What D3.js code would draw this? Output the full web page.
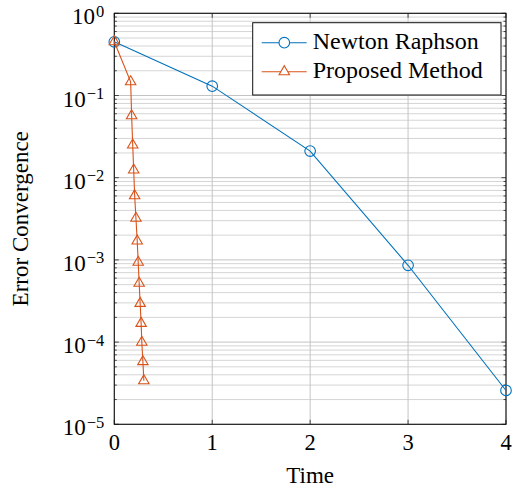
<!DOCTYPE html>
<html>
<head>
<meta charset="utf-8">
<script src="https://cdn.jsdelivr.net/npm/d3@7"></script>
<style>
  body { margin: 0; background: #fff; }
  svg text { font-family: "Liberation Serif", "DejaVu Serif", serif; fill: #000; }
</style>
</head>
<body>
<svg id="graf1"></svg>
<script>
// Newton Raphson
let newtonX = [0, 1, 2, 3, 4]
let newtonY = [0.45, 0.13, 0.0211, 0.00086, 0.0000258]

// Proposed Method
let propX = [0, 0.167, 0.177, 0.188, 0.198, 0.208, 0.221, 0.234, 0.244, 0.254, 0.264, 0.274, 0.281, 0.292, 0.302]
let propY = [0.45, 0.147, 0.0568, 0.025, 0.0124, 0.00604, 0.00321, 0.0017, 0.000935, 0.000519, 0.000296, 0.000169, 0.0000995, 0.0000578, 0.0000339]

let xTicks = [0, 1, 2, 3, 4]
let yExps = [0, -1, -2, -3, -4, -5]
let seriesNames = ['Newton Raphson', 'Proposed Method']

function graficar() {
  let width = 518
  let height = 491
  let m = { left: 114.3, right: 12, top: 13.3, bottom: 66.7 }
  let blue = '#0072bd'
  let orange = '#d95319'

  let svg = d3.select('#graf1')
    .attr('width', width)
    .attr('height', height)

  let x = d3.scaleLinear().domain([0, 4]).range([m.left, width - m.right])
  let y = d3.scaleLog().domain([1e-5, 1]).range([height - m.bottom, m.top])

  let x0 = x.range()[0], x1 = x.range()[1]
  let y0 = y.range()[0], y1 = y.range()[1]

  // minor values 2..9 in each decade
  let minor = []
  yExps.slice(0, -1).forEach(e => {
    for (let k = 2; k <= 9; k++) minor.push(k * Math.pow(10, e - 1))
  })

  let grid = svg.append('g')
  grid.selectAll('.hm').data(minor).enter().append('line')
    .attr('x1', x0).attr('x2', x1)
    .attr('y1', d => y(d)).attr('y2', d => y(d))
    .attr('stroke', '#d0d0d0').attr('stroke-width', 0.9)
  grid.selectAll('.hM').data(yExps).enter().append('line')
    .attr('x1', x0).attr('x2', x1)
    .attr('y1', d => y(Math.pow(10, d))).attr('y2', d => y(Math.pow(10, d)))
    .attr('stroke', '#c4c4c4').attr('stroke-width', 1)
  grid.selectAll('.vM').data(xTicks).enter().append('line')
    .attr('x1', d => x(d)).attr('x2', d => x(d))
    .attr('y1', y0).attr('y2', y1)
    .attr('stroke', '#c4c4c4').attr('stroke-width', 1)

  // inward ticks
  let ticks = svg.append('g').attr('stroke', '#222').attr('stroke-width', 0.8)
  xTicks.forEach(t => {
    ticks.append('line').attr('x1', x(t)).attr('x2', x(t)).attr('y1', y0).attr('y2', y0 - 4.5)
    ticks.append('line').attr('x1', x(t)).attr('x2', x(t)).attr('y1', y1).attr('y2', y1 + 4.5)
  })
  yExps.forEach(e => {
    let yy = y(Math.pow(10, e))
    ticks.append('line').attr('x1', x0).attr('x2', x0 + 4.5).attr('y1', yy).attr('y2', yy)
    ticks.append('line').attr('x1', x1).attr('x2', x1 - 4.5).attr('y1', yy).attr('y2', yy)
  })
  minor.forEach(v => {
    let yy = y(v)
    ticks.append('line').attr('x1', x0).attr('x2', x0 + 2.5).attr('y1', yy).attr('y2', yy)
    ticks.append('line').attr('x1', x1).attr('x2', x1 - 2.5).attr('y1', yy).attr('y2', yy)
  })

  // frame
  svg.append('rect')
    .attr('x', x0).attr('y', y1)
    .attr('width', x1 - x0).attr('height', y0 - y1)
    .attr('fill', 'none').attr('stroke', '#111').attr('stroke-width', 1.1)

  // x tick labels
  svg.append('g').selectAll('text').data(xTicks).enter().append('text')
    .attr('x', d => x(d)).attr('y', y0 + 25.7)
    .attr('text-anchor', 'middle').style('font-size', '22.5px')
    .text(d => d)

  // y tick labels 10^e
  let yl = svg.append('g').selectAll('text').data(yExps).enter().append('text')
    .attr('x', x0 - 10).attr('y', d => y(Math.pow(10, d)) + 11)
    .attr('text-anchor', 'end').style('font-size', '23px')
  yl.append('tspan').text('10')
  yl.append('tspan').attr('dy', -7.5).attr('dx', 1).style('font-size', '16.5px')
    .text(d => d === 0 ? '0' : '\u2212' + Math.abs(d))

  // axis labels
  svg.append('text')
    .attr('x', (x0 + x1) / 2).attr('y', 483.3)
    .attr('text-anchor', 'middle').style('font-size', '23px')
    .text('Time')
  svg.append('text')
    .attr('transform', `translate(28, ${(y0 + y1) / 2}) rotate(-90)`)
    .attr('text-anchor', 'middle').style('font-size', '23px')
    .text('Error Convergence')

  let line = d3.line().x(d => x(d[0])).y(d => y(d[1]))
  let nData = newtonX.map((v, i) => [v, newtonY[i]])
  let pData = propX.map((v, i) => [v, propY[i]])

  function triangle(cx, cy, s) {
    return `M${cx},${cy - s} L${cx + s * 0.87},${cy + s * 0.5} L${cx - s * 0.87},${cy + s * 0.5} Z`
  }

  let plot = svg.append('g')
  plot.append('path').attr('d', line(nData))
    .attr('fill', 'none').attr('stroke', blue).attr('stroke-width', 1.1)
  plot.selectAll('.nm').data(nData).enter().append('circle')
    .attr('cx', d => x(d[0])).attr('cy', d => y(d[1])).attr('r', 5.3)
    .attr('fill', 'none').attr('stroke', blue).attr('stroke-width', 1.1)

  plot.append('path').attr('d', line(pData))
    .attr('fill', 'none').attr('stroke', orange).attr('stroke-width', 1.1)
  plot.selectAll('.pm').data(pData).enter().append('path')
    .attr('d', d => triangle(x(d[0]), y(d[1]), 6))
    .attr('fill', 'none').attr('stroke', orange).attr('stroke-width', 1.1)

  // legend
  let lg = svg.append('g')
  lg.append('rect')
    .attr('x', 252.7).attr('y', 22.7).attr('width', 248.3).attr('height', 72.3)
    .attr('fill', '#fff').attr('stroke', '#111').attr('stroke-width', 1)
  let rows = [42.7, 71.7]
  let cols = [blue, orange]
  seriesNames.forEach((name, i) => {
    let ry = rows[i]
    lg.append('line').attr('x1', 261.7).attr('x2', 306.7).attr('y1', ry).attr('y2', ry)
      .attr('stroke', cols[i]).attr('stroke-width', 1.1)
    if (i === 0) {
      lg.append('circle').attr('cx', 284.3).attr('cy', ry).attr('r', 5.3)
        .attr('fill', '#fff').attr('stroke', blue).attr('stroke-width', 1.1)
    } else {
      lg.append('path').attr('d', triangle(284.3, ry, 6))
        .attr('fill', '#fff').attr('stroke', orange).attr('stroke-width', 1.1)
    }
    lg.append('text').attr('x', 312.7).attr('y', ry + 6.6)
      .style('font-size', '24px').text(name)
  })
}

graficar()
</script>
</body>
</html>
